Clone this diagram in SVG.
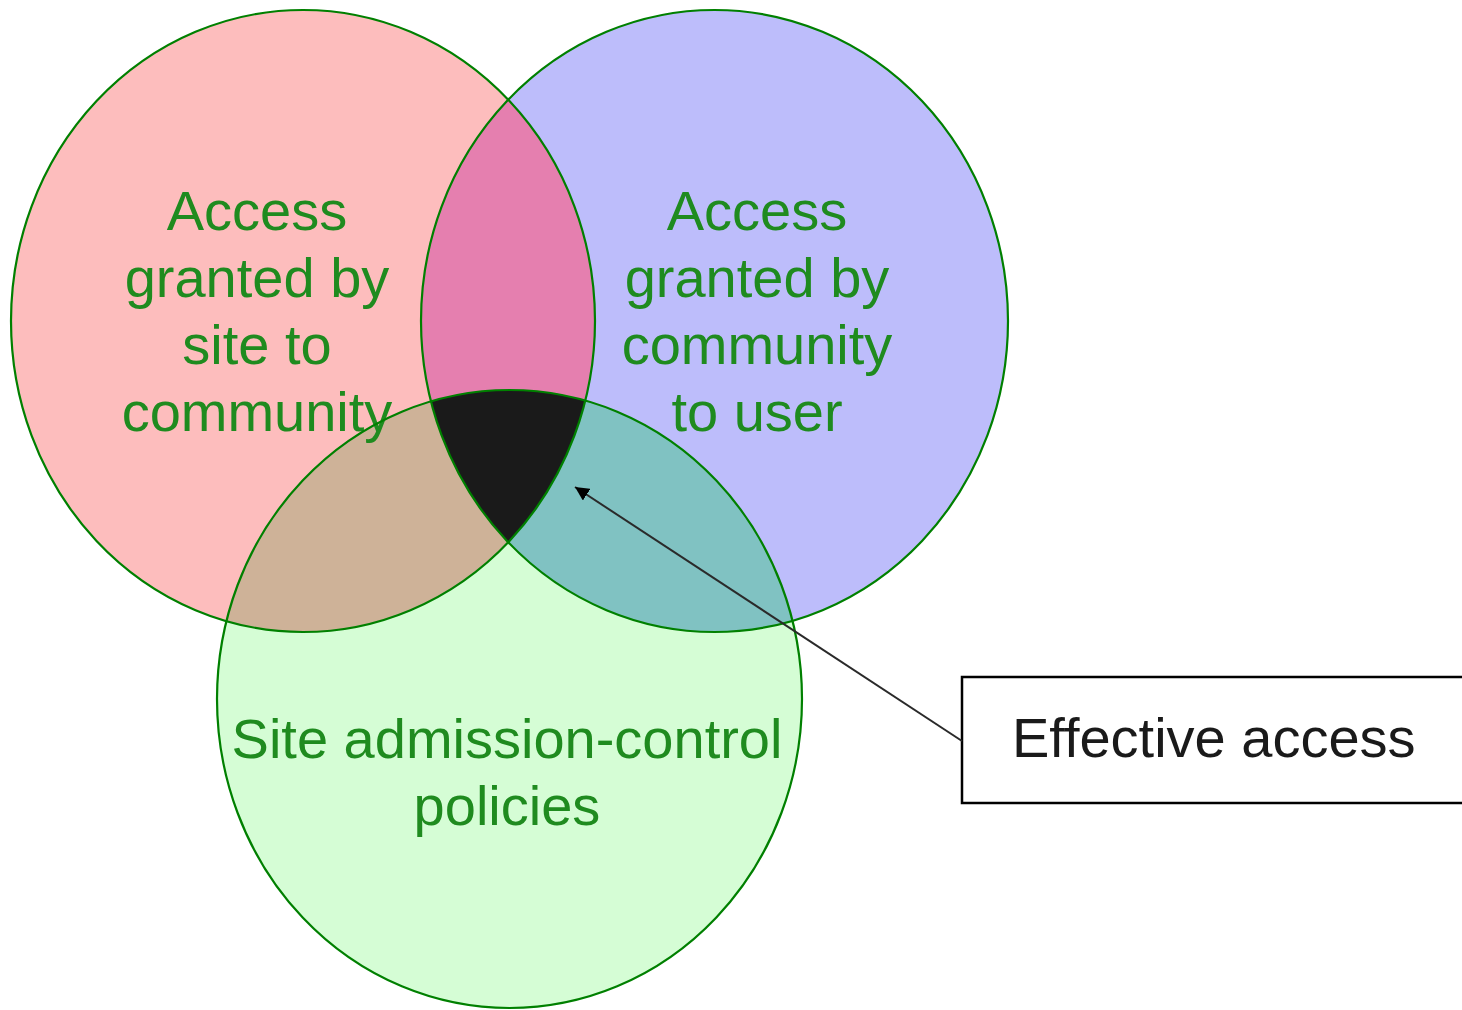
<svg xmlns="http://www.w3.org/2000/svg" xmlns:xlink="http://www.w3.org/1999/xlink" width="1462" height="1010" viewBox="0 0 1462 1010">
  <style>
    .outline { fill: none; stroke: #008000; stroke-width: 2.2; }
    .lbl { font-family: "Liberation Sans", Arial, sans-serif; font-size: 56px; fill: #1f8b1f; text-anchor: middle; }
    .box { fill: #ffffff; stroke: #000000; stroke-width: 2.5; }
    .boxlbl { font-family: "Liberation Sans", Arial, sans-serif; font-size: 56px; fill: #1a1a1a; }
    .conn { fill: none; stroke: #2a2a2a; stroke-width: 2; }
  </style>
  <defs>
    <ellipse id="shapeL" cx="303" cy="321" rx="292" ry="311"/>
    <ellipse id="shapeR" cx="714.5" cy="321" rx="293.5" ry="311"/>
    <ellipse id="shapeG" cx="509.5" cy="699" rx="292.5" ry="309"/>
    <clipPath id="clipL"><use xlink:href="#shapeL"/></clipPath>
    <clipPath id="clipR"><use xlink:href="#shapeR"/></clipPath>
    <marker id="arrowhead" viewBox="0 0 10 10" refX="10" refY="5" markerWidth="7" markerHeight="7" markerUnits="strokeWidth" orient="auto">
      <path d="M0,0 L10,5 L0,10 z" fill="#000000"/>
    </marker>
  </defs>

  <g id="regions">
    <use xlink:href="#shapeL" fill="#FDBDBD"/>
    <use xlink:href="#shapeR" fill="#BDBDFB"/>
    <use xlink:href="#shapeG" fill="#D5FDD5"/>
    <use xlink:href="#shapeR" fill="#E57FAF" clip-path="url(#clipL)"/>
    <use xlink:href="#shapeG" fill="#CEB298" clip-path="url(#clipL)"/>
    <use xlink:href="#shapeG" fill="#80C2C2" clip-path="url(#clipR)"/>
    <g clip-path="url(#clipL)">
      <use xlink:href="#shapeG" fill="#1A1A1A" clip-path="url(#clipR)"/>
    </g>
  </g>

  <g id="node-site-to-community">
    <use xlink:href="#shapeL" class="outline"/>
    <text class="lbl" x="257" y="230">Access</text>
    <text class="lbl" x="257" y="297">granted by</text>
    <text class="lbl" x="257" y="364">site to</text>
    <text class="lbl" x="257" y="431">community</text>
  </g>

  <g id="node-community-to-user">
    <use xlink:href="#shapeR" class="outline"/>
    <text class="lbl" x="757" y="230">Access</text>
    <text class="lbl" x="757" y="297">granted by</text>
    <text class="lbl" x="757" y="364">community</text>
    <text class="lbl" x="757" y="431">to user</text>
  </g>

  <g id="node-admission-control">
    <use xlink:href="#shapeG" class="outline"/>
    <text class="lbl" x="507" y="758">Site admission-control</text>
    <text class="lbl" x="507" y="825">policies</text>
  </g>

  <g id="node-effective-access">
    <rect class="box" x="962" y="677" width="520" height="126"/>
    <text class="boxlbl" x="1012" y="757">Effective access</text>
  </g>

  <g id="connectors">
    <line class="conn" x1="962" y1="741" x2="575" y2="487" marker-end="url(#arrowhead)"/>
  </g>
</svg>
